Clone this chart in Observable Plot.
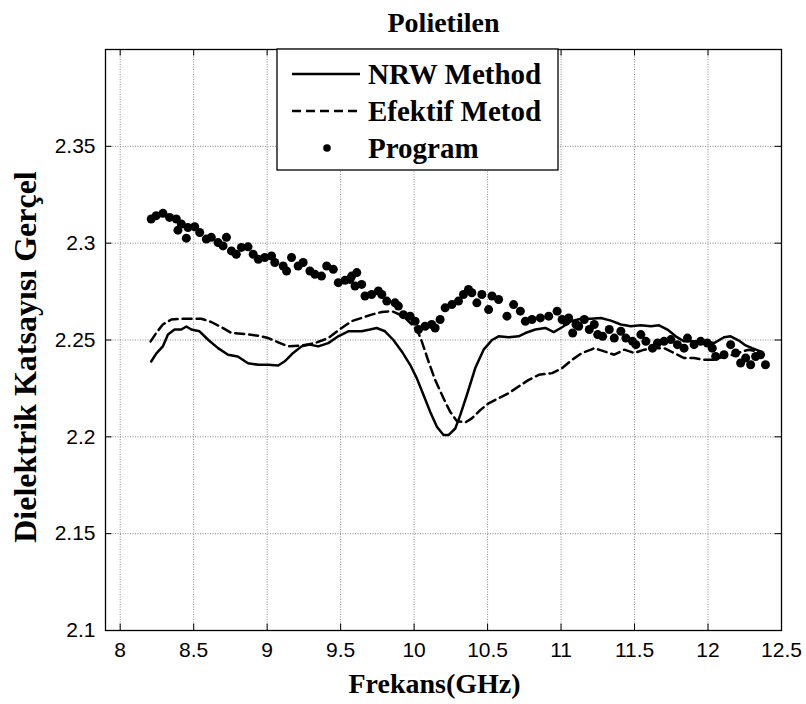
<!DOCTYPE html>
<html>
<head>
<meta charset="utf-8">
<script src="https://cdn.jsdelivr.net/npm/d3@7"></script>
<script src="https://cdn.jsdelivr.net/npm/@observablehq/plot@0.6"></script>
<style>
  body { margin: 0; background: #fff; }
</style>
</head>
<body>
<div id="chart"></div>
<script>
// Polietilen: real part of the dielectric constant vs frequency (GHz)
const xTicks = [8, 8.5, 9, 9.5, 10, 10.5, 11, 11.5, 12, 12.5];
const yTicks = [2.1, 2.15, 2.2, 2.25, 2.3, 2.35];

const seriesNames = ["NRW Method", "Efektif Metod", "Program"];

// NRW method (solid line)
const nrwFreq = [8.211, 8.245, 8.29, 8.325, 8.37, 8.416, 8.45, 8.484, 8.54, 8.6, 8.666, 8.734, 8.80, 8.87, 8.94, 9.007, 9.075, 9.12, 9.177, 9.234, 9.29, 9.348, 9.416, 9.484, 9.507, 9.552, 9.575, 9.643, 9.70, 9.745, 9.802, 9.859, 9.916, 9.973, 10.018, 10.064, 10.109, 10.155, 10.2, 10.234, 10.28, 10.314, 10.359, 10.416, 10.473, 10.53, 10.575, 10.643, 10.711, 10.757, 10.825, 10.893, 10.95, 11.007, 11.068, 11.136, 11.204, 11.271, 11.339, 11.407, 11.475, 11.543, 11.611, 11.667, 11.724, 11.78, 11.837, 11.905, 11.973, 12.041, 12.109, 12.154, 12.21, 12.256, 12.3, 12.357, 12.38];
const nrwEps = [2.2389, 2.2430, 2.2467, 2.2528, 2.2554, 2.2554, 2.2570, 2.2554, 2.2545, 2.2500, 2.2458, 2.2424, 2.2415, 2.2380, 2.2372, 2.2372, 2.2368, 2.2390, 2.2433, 2.2467, 2.2476, 2.2467, 2.2484, 2.2519, 2.2528, 2.2545, 2.2545, 2.2545, 2.2554, 2.2562, 2.2545, 2.2500, 2.2441, 2.2372, 2.2303, 2.2216, 2.2130, 2.2052, 2.2009, 2.2009, 2.2043, 2.2112, 2.2216, 2.2355, 2.2450, 2.2500, 2.2519, 2.2514, 2.2519, 2.2536, 2.2554, 2.2562, 2.2541, 2.2566, 2.2597, 2.2610, 2.2610, 2.2614, 2.2600, 2.2580, 2.2571, 2.2576, 2.2571, 2.2576, 2.2554, 2.2519, 2.2493, 2.2493, 2.2493, 2.2484, 2.2514, 2.2519, 2.2497, 2.2472, 2.2458, 2.2441, 2.2424];

// Effective method (dashed line)
const efFreq = [8.207, 8.245, 8.29, 8.348, 8.44, 8.552, 8.62, 8.689, 8.757, 8.848, 8.94, 9.007, 9.075, 9.143, 9.234, 9.325, 9.416, 9.507, 9.575, 9.643, 9.711, 9.78, 9.848, 9.927, 9.984, 10.025, 10.052, 10.098, 10.143, 10.2, 10.245, 10.291, 10.348, 10.393, 10.45, 10.507, 10.575, 10.643, 10.711, 10.78, 10.848, 10.939, 11.007, 11.075, 11.143, 11.204, 11.226, 11.294, 11.362, 11.43, 11.498, 11.566, 11.633, 11.701, 11.769, 11.837, 11.905, 11.973, 12.041, 12.109, 12.176, 12.233, 12.278, 12.335, 12.369];
const efEps = [2.2493, 2.2536, 2.2580, 2.2606, 2.2610, 2.2610, 2.2593, 2.2566, 2.2536, 2.2531, 2.2522, 2.2510, 2.2488, 2.2467, 2.2472, 2.2484, 2.2510, 2.2562, 2.2597, 2.2614, 2.2631, 2.2645, 2.2649, 2.2623, 2.2580, 2.2545, 2.2493, 2.2389, 2.2294, 2.2199, 2.2130, 2.2081, 2.2074, 2.2095, 2.2138, 2.2173, 2.2199, 2.2225, 2.2260, 2.2294, 2.2320, 2.2329, 2.2355, 2.2398, 2.2433, 2.2450, 2.2458, 2.2441, 2.2424, 2.2450, 2.2433, 2.2450, 2.2458, 2.2458, 2.2433, 2.2407, 2.2407, 2.2398, 2.2398, 2.2415, 2.2424, 2.2441, 2.2450, 2.2441, 2.2415];

// Program output (dots)
const progFreq = [8.211, 8.245, 8.291, 8.336, 8.382, 8.393, 8.416, 8.45, 8.461, 8.507, 8.541, 8.586, 8.62, 8.666, 8.70, 8.723, 8.757, 8.79, 8.825, 8.87, 8.905, 8.94, 8.984, 9.03, 9.052, 9.109, 9.132, 9.166, 9.211, 9.245, 9.291, 9.325, 9.37, 9.405, 9.45, 9.484, 9.53, 9.564, 9.575, 9.598, 9.61, 9.643, 9.666, 9.711, 9.757, 9.78, 9.814, 9.87, 9.893, 9.927, 9.973, 10.007, 10.03, 10.075, 10.12, 10.143, 10.177, 10.211, 10.257, 10.302, 10.336, 10.37, 10.393, 10.427, 10.461, 10.507, 10.53, 10.575, 10.632, 10.677, 10.723, 10.757, 10.802, 10.859, 10.916, 10.973, 11.007, 11.034, 11.052, 11.079, 11.102, 11.12, 11.158, 11.192, 11.226, 11.249, 11.283, 11.328, 11.362, 11.407, 11.441, 11.486, 11.509, 11.543, 11.577, 11.622, 11.656, 11.701, 11.747, 11.792, 11.837, 11.86, 11.905, 11.95, 11.995, 12.029, 12.052, 12.109, 12.154, 12.188, 12.222, 12.256, 12.29, 12.324, 12.357, 12.391];
const progEps = [2.3125, 2.3142, 2.3154, 2.3133, 2.3125, 2.3067, 2.3099, 2.3026, 2.3081, 2.3085, 2.3055, 2.3021, 2.3030, 2.3003, 2.2986, 2.3030, 2.2960, 2.2943, 2.2978, 2.2981, 2.2943, 2.2917, 2.2926, 2.2934, 2.2900, 2.2882, 2.2856, 2.2926, 2.2882, 2.2900, 2.2856, 2.2839, 2.2830, 2.2882, 2.2865, 2.2796, 2.2808, 2.2813, 2.2830, 2.2779, 2.2848, 2.2787, 2.2727, 2.2735, 2.2753, 2.2735, 2.2701, 2.2692, 2.2675, 2.2631, 2.2623, 2.2597, 2.2554, 2.2571, 2.2580, 2.2562, 2.2606, 2.2666, 2.2683, 2.2701, 2.2735, 2.2761, 2.2744, 2.2692, 2.2735, 2.2657, 2.2727, 2.2709, 2.2623, 2.2683, 2.2649, 2.2597, 2.2606, 2.2614, 2.2623, 2.2649, 2.2606, 2.2597, 2.2614, 2.2536, 2.2580, 2.2571, 2.2606, 2.2554, 2.2580, 2.2528, 2.2519, 2.2554, 2.2510, 2.2545, 2.2510, 2.2493, 2.2476, 2.2528, 2.2493, 2.2458, 2.2484, 2.2493, 2.2502, 2.2476, 2.2458, 2.2510, 2.2476, 2.2493, 2.2484, 2.2458, 2.2415, 2.2424, 2.2476, 2.2433, 2.2381, 2.2407, 2.2372, 2.2415, 2.2424, 2.2372];

const zip = (fs, vs) => fs.map((f, i) => ({f, v: vs[i]}));
const nrw = zip(nrwFreq, nrwEps);
const ef = zip(efFreq, efEps);
const prog = zip(progFreq, progEps);

const W = 806, H = 704;
const mL = 105, mR = 25, mT = 49, mB = 74;
const innerW = W - mL - mR, innerH = H - mT - mB;
const tickLen = 6.5;
const lineW = 2.5;
const dotR = 4.5;
const dash = "9,5";
const serif = "'Liberation Serif', 'Times New Roman', Times, serif";
const sans = "'Liberation Sans', Arial, Helvetica, sans-serif";
const gridStyle = {stroke: "#8a8a8a", strokeOpacity: 1, strokeWidth: 1, strokeDasharray: "1,1.5"};

const chart = Plot.plot({
  width: W,
  height: H,
  marginLeft: mL, marginRight: mR, marginTop: mT, marginBottom: mB,
  style: {fontFamily: sans, fontSize: "21px", background: "#fff", color: "#000", overflow: "visible"},
  x: {domain: [7.9, 12.5]},
  y: {domain: [2.1, 2.4]},
  marks: [
    Plot.gridX(xTicks, gridStyle),
    Plot.gridY(yTicks, gridStyle),
    Plot.line(ef, {x: "f", y: "v", stroke: "#000", strokeWidth: lineW, strokeDasharray: dash}),
    Plot.line(nrw, {x: "f", y: "v", stroke: "#000", strokeWidth: lineW}),
    Plot.dot(prog, {x: "f", y: "v", r: dotR, fill: "#000", stroke: null}),
    // inward ticks on all four sides
    Plot.tickX(xTicks, {x: d => d, insetTop: innerH - tickLen, stroke: "#000"}),
    Plot.tickX(xTicks, {x: d => d, insetBottom: innerH - tickLen, stroke: "#000"}),
    Plot.tickY(yTicks, {y: d => d, insetRight: innerW - tickLen, stroke: "#000"}),
    Plot.tickY(yTicks, {y: d => d, insetLeft: innerW - tickLen, stroke: "#000"}),
    Plot.frame({stroke: "#000", strokeWidth: 1.3}),
    Plot.axisX(xTicks, {tickSize: 0, tickPadding: 12, tickFormat: d => String(d), label: null, fontSize: 21}),
    Plot.axisY(yTicks, {tickSize: 0, tickPadding: 10, tickFormat: d => String(d), label: null, fontSize: 21}),
    Plot.text(["Polietilen"], {frameAnchor: "top", dy: -18, lineAnchor: "bottom", fontFamily: serif, fontWeight: "bold", fontSize: 28}),
    Plot.text(["Frekans(GHz)"], {frameAnchor: "bottom", dx: -9, dy: 62, lineAnchor: "bottom", fontFamily: serif, fontWeight: "bold", fontSize: 28}),
    Plot.text(["Dielektrik Katsayısı Gerçel"], {frameAnchor: "left", textAnchor: "middle", rotate: -90, dx: -70, dy: 17, lineAnchor: "bottom", fontFamily: serif, fontWeight: "bold", fontSize: 32})
  ]
});

document.getElementById("chart").appendChild(chart);

// Legend box in the upper part of the plot area
const svg = d3.select(chart);
const lg = svg.append("g").attr("transform", `translate(${mL + 172},${mT})`);
lg.append("rect").attr("x", 0).attr("y", 0).attr("width", 281).attr("height", 121)
  .attr("fill", "#fff").attr("stroke", "#000").attr("stroke-width", 1.3);
const rows = [
  {name: seriesNames[0], kind: "solid"},
  {name: seriesNames[1], kind: "dash"},
  {name: seriesNames[2], kind: "dot"}
];
rows.forEach((r, i) => {
  const cy = 25 + i * 37;
  if (r.kind === "dot") {
    lg.append("circle").attr("cx", 50).attr("cy", cy).attr("r", 3.8).attr("fill", "#000");
  } else {
    lg.append("line").attr("x1", 15).attr("x2", 83).attr("y1", cy).attr("y2", cy)
      .attr("stroke", "#000").attr("stroke-width", lineW)
      .attr("stroke-dasharray", r.kind === "dash" ? dash : null);
  }
  lg.append("text").attr("x", 91).attr("y", cy + 10)
    .attr("text-anchor", "start")
    .attr("font-family", serif).attr("font-weight", "bold").attr("font-size", 29)
    .attr("fill", "#000").text(r.name);
});
</script>
</body>
</html>
